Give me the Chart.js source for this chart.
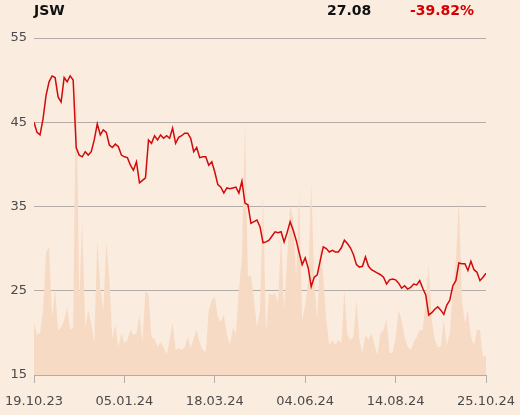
<!DOCTYPE html>
<html lang="en">
<head>
<meta charset="UTF-8">
<title>JSW</title>
<script src="https://cdn.jsdelivr.net/npm/chart.js@4.4.1/dist/chart.umd.min.js"></script>
<style>
  html, body { margin: 0; padding: 0; background: #fbece0; }
  #wrap { position: relative; width: 520px; height: 415px; }
  .hdr { position: absolute; top: 2px; font: bold 14px "DejaVu Sans", sans-serif; color: #111; }
</style>
</head>
<body>
<div id="wrap">
  <canvas id="chart" width="520" height="415"></canvas>
  <div class="hdr" style="left:34px">JSW</div>
  <div class="hdr" style="left:327px">27.08</div>
  <div class="hdr" style="left:410px;color:#d40000">-39.82%</div>
</div>

<script>
// x tick labels and where they sit (sample index)
const tickLabels = ['19.10.23', '05.01.24', '18.03.24', '04.06.24', '14.08.24', '25.10.24'];
const tickIdx = [0, 30, 60, 90, 120, 150];

// closing price
const price = [
  45.0, 43.8, 43.5, 45.4, 48.2, 49.8, 50.5, 50.3, 48.0, 47.4,
  50.3, 49.8, 50.5, 50.0, 42.0, 41.1, 40.9, 41.5, 41.1, 41.5,
  42.9, 44.8, 43.5, 44.1, 43.8, 42.3, 42.0, 42.4, 42.1, 41.1,
  40.9, 40.8, 39.9, 39.3, 40.3, 37.8, 38.1, 38.4, 42.9, 42.5,
  43.4, 42.9, 43.5, 43.1, 43.4, 43.1, 44.3, 42.5, 43.2, 43.4,
  43.7, 43.7, 43.1, 41.5, 42.0, 40.8, 40.9, 40.9, 39.9, 40.3,
  39.1, 37.6, 37.3, 36.6, 37.2, 37.1, 37.2, 37.3, 36.6, 38.0,
  35.4, 35.2, 33.0, 33.2, 33.4, 32.6, 30.7, 30.8, 31.0, 31.5,
  32.0, 31.9, 32.0, 30.8, 31.9, 33.2, 32.2, 31.0, 29.5, 28.1,
  28.9, 27.7, 25.5, 26.6, 26.9, 28.6, 30.2, 30.0, 29.6, 29.8,
  29.6, 29.6, 30.1, 31.0, 30.6, 30.1, 29.3, 28.1, 27.8, 27.9,
  29.0, 27.9, 27.5, 27.3, 27.1, 26.9, 26.6, 25.8, 26.3, 26.4,
  26.3, 25.9, 25.3, 25.6, 25.2, 25.4, 25.8, 25.7, 26.2, 25.3,
  24.5, 22.1, 22.4, 22.8, 23.1, 22.7, 22.2, 23.3, 23.9, 25.6,
  26.2, 28.3, 28.2, 28.2, 27.4, 28.5, 27.5, 27.2, 26.2, 26.6,
  27.08
];

// traded volume (millions), background area
const volume = [
  0.53, 0.40, 0.42, 0.65, 1.22, 1.28, 0.58, 0.85, 0.45, 0.48,
  0.55, 0.68, 0.45, 0.48, 3.10, 0.75, 1.53, 0.48, 0.65, 0.52,
  0.32, 1.35, 0.87, 0.65, 1.33, 0.97, 0.37, 0.50, 0.28, 0.42,
  0.32, 0.35, 0.45, 0.40, 0.42, 0.60, 0.33, 0.85, 0.80, 0.38,
  0.36, 0.28, 0.33, 0.28, 0.20, 0.35, 0.53, 0.25, 0.27, 0.25,
  0.28, 0.38, 0.27, 0.37, 0.45, 0.32, 0.25, 0.23, 0.65, 0.75,
  0.78, 0.58, 0.53, 0.60, 0.41, 0.30, 0.47, 0.42, 0.85, 1.17,
  2.53, 0.98, 1.00, 0.75, 0.48, 0.65, 1.80, 0.42, 0.82, 0.80,
  0.82, 0.72, 1.42, 0.65, 1.15, 1.70, 1.57, 0.95, 1.83, 0.55,
  0.70, 0.95, 1.92, 0.95, 0.55, 1.30, 0.98, 0.55, 0.30, 0.35,
  0.30, 0.35, 0.32, 0.85, 0.40, 0.35, 0.38, 0.75, 0.35, 0.22,
  0.40, 0.35, 0.42, 0.30, 0.20, 0.42, 0.45, 0.55, 0.22, 0.22,
  0.37, 0.65, 0.55, 0.38, 0.28, 0.25, 0.33, 0.38, 0.45, 0.45,
  0.75, 1.10, 0.55, 0.35, 0.28, 0.28, 0.55, 0.30, 0.42, 0.85,
  1.15, 1.75, 0.75, 0.52, 0.65, 0.38, 0.30, 0.45, 0.45, 0.18,
  0.20
];

const yTicks = [15, 25, 35, 45, 55];

Chart.defaults.font.family = '"DejaVu Sans", sans-serif';
Chart.defaults.font.size = 13;

const gridCol = '#b3aca7';
const textCol = '#4a4a4a';

new Chart(document.getElementById('chart'), {
  type: 'line',
  data: {
    datasets: [
      {
        label: 'Price',
        data: price.map((v, i) => ({ x: i, y: v })),
        yAxisID: 'y',
        borderColor: '#d20a0a',
        borderWidth: 1.5,
        pointRadius: 0,
        tension: 0,
        fill: false,
        order: 1
      },
      {
        label: 'Volume',
        data: volume.map((v, i) => ({ x: i, y: v })),
        yAxisID: 'yv',
        borderWidth: 0,
        borderColor: 'rgba(0,0,0,0)',
        backgroundColor: '#f7dac4',
        pointRadius: 0,
        tension: 0,
        fill: 'start',
        order: 2
      }
    ]
  },
  options: {
    responsive: false,
    devicePixelRatio: 1,
    animation: false,
    layout: { padding: { top: 38, right: 34, left: 0, bottom: 0 } },
    plugins: { legend: { display: false }, tooltip: { enabled: false } },
    scales: {
      x: {
        type: 'linear',
        min: 0,
        max: price.length - 1,
        afterBuildTicks: s => { s.ticks = tickIdx.map(v => ({ value: v })); },
        afterFit: s => { s.height = 40; s.paddingLeft = 0; s.paddingRight = 0; },
        ticks: {
          autoSkip: false,
          maxRotation: 0,
          padding: 11,
          color: textCol,
          callback: v => tickLabels[tickIdx.indexOf(v)]
        },
        grid: { drawOnChartArea: false, tickLength: 8, color: gridCol },
        border: { display: true, color: gridCol }
      },
      y: {
        min: 15,
        max: 55,
        afterBuildTicks: s => { s.ticks = yTicks.map(v => ({ value: v })); },
        afterFit: s => { s.width = 34; s.paddingTop = 0; s.paddingBottom = 0; },
        ticks: { padding: 7, color: textCol },
        grid: { color: gridCol, drawTicks: false },
        border: { display: false }
      },
      yv: {
        display: false,
        min: 0,
        max: 3.37
      }
    }
  }
});
</script>
</body>
</html>
